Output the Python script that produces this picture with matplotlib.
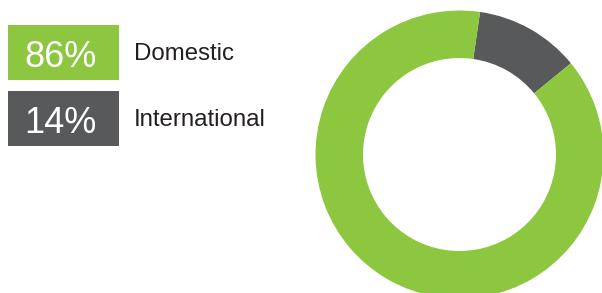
import matplotlib
matplotlib.use("Agg")
import matplotlib.pyplot as plt
from matplotlib.patches import Rectangle

categories = ["Domestic", "International"]
label_pcts = ["86%", "14%"]
# slice sizes as drawn in the reference ring
slice_values = [88.2, 11.8]
colors = ["#8DC63F", "#58595B"]

W, H = 602, 293
fig = plt.figure(figsize=(W / 100, H / 100), dpi=100)
fig.patch.set_facecolor("white")

ax0 = fig.add_axes([0, 0, 1, 1])
ax0.set_xlim(0, W)
ax0.set_ylim(H, 0)
ax0.axis("off")

box_tops = [25, 91]
box_h = 55
for i, (cat, pct, col) in enumerate(zip(categories, label_pcts, colors)):
    y0 = box_tops[i]
    ax0.add_patch(Rectangle((8, y0), 111, box_h, facecolor=col, edgecolor="none"))
    ax0.text(60, y0 + 42, pct, color="white", fontsize=26,
             family="Liberation Sans", ha="center", va="baseline")
    ax0.text(134, y0 + 35.5, cat, color="#231F20", fontsize=17.3,
             family="Liberation Sans", ha="left", va="baseline")

cx, cy, R = 459.5, 154.5, 144
axp = fig.add_axes([(cx - R) / W, (H - cy - R) / H, 2 * R / W, 2 * R / H])
axp.pie(slice_values[::-1], colors=colors[::-1], startangle=90 - 8.2,
        counterclock=False, radius=1,
        wedgeprops=dict(width=(R - 96.5) / R, edgecolor="none"))
axp.set_xlim(-1, 1)
axp.set_ylim(-1, 1)
axp.set_aspect("equal")
axp.axis("off")

fig.savefig("out.png", dpi=100, facecolor="white")
